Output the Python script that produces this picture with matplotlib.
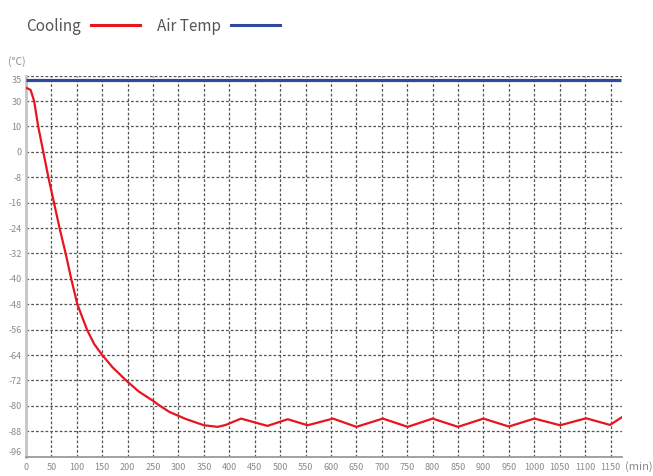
import numpy as np
import matplotlib
matplotlib.use("Agg")
import matplotlib.pyplot as plt
from matplotlib.transforms import ScaledTranslation
from matplotlib.lines import Line2D

plt.rcParams['font.family'] = ['Noto Sans CJK SC', 'DejaVu Sans']

# y axis is not linear: each tick gets the same height
y_levels = [-96, -88, -80, -72, -64, -56, -48, -40, -32, -24, -16, -8, 0, 10, 30, 35]
x_ticks = list(range(0, 1151, 50))

# cooling curve (min, degC)
cool_t = [0, 9, 16, 24, 34, 44, 55, 66, 78, 89, 101, 120, 134, 150, 170, 197, 222, 250, 262,
          282, 314, 350, 377, 393, 423, 475, 515, 554, 604, 650, 702, 751, 800,
          850, 900, 950, 1000, 1051, 1102, 1149, 1172]
cool_v = [32.6, 32.2, 30, 10, 0, -8, -16, -24, -32, -40, -48, -56, -60.5, -64, -67.8, -72, -75.5, -78.4, -79.8,
          -81.9, -84.1, -86.1, -86.6, -86.0, -84.0, -86.3, -84.2, -86.1, -84.0, -86.6, -84.0, -86.6, -84.0,
          -86.6, -84.0, -86.5, -84.0, -86.1, -83.9, -86.0, -83.6]

air_t = [0, 1170]
air_v = [34.1, 34.1]

idx = np.arange(len(y_levels))


def fwd(v):
    return np.interp(v, y_levels, idx)


def inv(i):
    return np.interp(i, idx, y_levels)


fig = plt.figure(figsize=(6.53, 4.76), dpi=100)
ax = fig.add_axes([26 / 653, 19.3 / 476, (621.7 - 26) / 653, (456.7 - 75.6) / 476])
ax.set_yscale('function', functions=(fwd, inv))

red = '#e8141e'
blue = '#2e4a9e'
ax.plot(air_t, air_v, color=blue, linewidth=2.3, solid_capstyle='butt', zorder=3)
ax.plot(cool_t, cool_v, color=red, linewidth=1.6, zorder=4, solid_joinstyle='round')

ax.set_xlim(0, 1172)
ax.set_ylim(-96, 35)
ax.set_xticks(x_ticks)
ax.set_yticks(y_levels)
ax.set_yticklabels([str(v) for v in y_levels])
ax.tick_params(length=0, labelsize=6.5, labelcolor='#8a8a8a')
ax.tick_params(axis='x', pad=4.5)
ax.tick_params(axis='y', pad=3)

grid_kw = dict(color='#555555', linewidth=0.9, linestyle=(0, (2.2, 1.6)))
for x in x_ticks[1:]:
    ax.axvline(x, **grid_kw, zorder=1)
for v in y_levels[1:]:
    ax.axhline(v, **grid_kw, zorder=1)

for s in ['top', 'right']:
    ax.spines[s].set_visible(False)
ax.spines['left'].set_color('#c4c4c4')
ax.spines['left'].set_linewidth(2)
ax.spines['bottom'].set_color('#9a9a9a')
ax.spines['bottom'].set_linewidth(1.3)

# end labels sit slightly inside like the original
labs = ax.get_yticklabels()
labs[0].set_transform(labs[0].get_transform() + ScaledTranslation(0, 5 / 100, fig.dpi_scale_trans))
labs[-1].set_transform(labs[-1].get_transform() + ScaledTranslation(0, -4 / 100, fig.dpi_scale_trans))

fig.text(8 / 653, 1 - 62 / 476, '(°C)', fontsize=7.5, color='#8a8a8a', va='center', ha='left')
fig.text(625 / 653, 1 - 467 / 476, '(min)', fontsize=8, color='#8a8a8a', va='center', ha='left')

handles = [Line2D([], [], color=red, linewidth=2.2), Line2D([], [], color=blue, linewidth=2.2)]
fig.legend(handles, ['Cooling', 'Air Temp'], loc='upper left', bbox_to_anchor=(12 / 653, 1 - 4 / 476),
           ncol=2, markerfirst=False, frameon=False, fontsize=11, handlelength=3.2,
           handletextpad=0.7, columnspacing=1.1, labelcolor='#555555')

fig.savefig('out.png', dpi=100)
